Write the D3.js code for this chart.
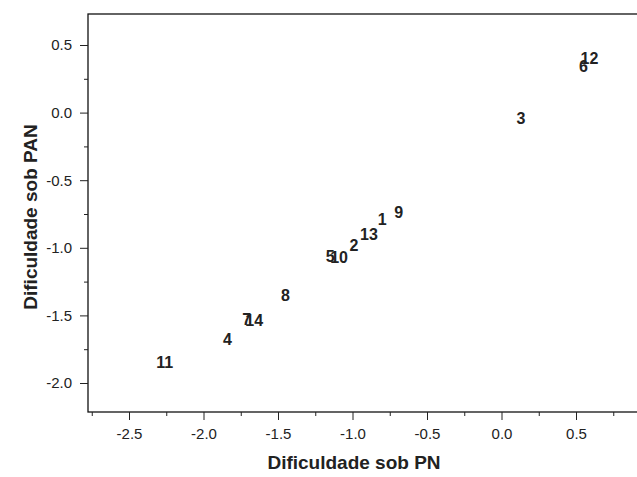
<!DOCTYPE html>
<html>
<head>
<meta charset="utf-8">
<script src="https://cdn.jsdelivr.net/npm/d3@7"></script>
<style>
  body { margin: 0; background: #fff; }
  text { font-family: "Liberation Sans", Arial, sans-serif; }
</style>
</head>
<body>
<script>
// item labels and difficulties (PN on x, PAN on y)
var items = ["1","2","3","4","5","6","7","8","9","10","11","12","13","14"];
var pn  = [-0.80, -0.99,  0.13, -1.84, -1.15, 0.55, -1.71, -1.45, -0.69, -1.09, -2.26, 0.59, -0.89, -1.66];
var pan = [-0.79, -0.98, -0.04, -1.68, -1.06, 0.34, -1.53, -1.35, -0.74, -1.07, -1.85, 0.40, -0.90, -1.54];
var majorTicks = [-2.5, -2.0, -1.5, -1.0, -0.5, 0.0, 0.5];
var majorTicksY = [-2.0, -1.5, -1.0, -0.5, 0.0, 0.5];

var W = 637, H = 477;
var frame = {left: 88, top: 14, bottom: 412, right: 700};

var x = d3.scaleLinear().domain([-2.5, 0.5]).range([129, 576]);
var y = d3.scaleLinear().domain([-2.0, 0.5]).range([383, 45]);

var svg = d3.select("body").append("svg")
    .attr("width", W)
    .attr("height", H);

// frame
svg.append("rect")
    .attr("x", frame.left).attr("y", frame.top)
    .attr("width", frame.right - frame.left).attr("height", frame.bottom - frame.top)
    .attr("fill", "none")
    .attr("stroke", "#111")
    .attr("stroke-width", 1.3);

var fmt = function(d) { return d.toFixed(1); };

// x axis
var xAxis = d3.axisBottom(x).tickValues(majorTicks).tickFormat(fmt).tickSize(8).tickPadding(8);
var gx = svg.append("g").attr("transform", "translate(0," + frame.bottom + ")").call(xAxis);
gx.select(".domain").remove();
gx.selectAll("text").attr("font-size", 15).attr("fill", "#222").attr("font-family", "Liberation Sans, Arial, sans-serif");

var xMinor = d3.axisBottom(x).tickValues(d3.range(-2.75, 0.8, 0.5)).tickFormat("").tickSize(4);
var gxm = svg.append("g").attr("transform", "translate(0," + frame.bottom + ")").call(xMinor);
gxm.select(".domain").remove();
gxm.selectAll(".tick").filter(function(d) { return x(d) < frame.left; }).remove();

// y axis
var yAxis = d3.axisLeft(y).tickValues(majorTicksY).tickFormat(fmt).tickSize(8).tickPadding(8);
var gy = svg.append("g").attr("transform", "translate(" + frame.left + ",0)").call(yAxis);
gy.select(".domain").remove();
gy.selectAll("text").attr("font-size", 15).attr("fill", "#222").attr("font-family", "Liberation Sans, Arial, sans-serif");

var yMinor = d3.axisLeft(y).tickValues(d3.range(-1.75, 0.5, 0.5)).tickFormat("").tickSize(4);
var gym = svg.append("g").attr("transform", "translate(" + frame.left + ",0)").call(yMinor);
gym.select(".domain").remove();

svg.selectAll(".tick line").attr("stroke", "#222");

// axis titles
svg.append("text")
    .attr("x", 354).attr("y", 469)
    .attr("text-anchor", "middle")
    .attr("font-size", 19).attr("font-weight", "bold").attr("fill", "#222")
    .text("Dificuldade sob PN");

svg.append("text")
    .attr("transform", "translate(37,217) rotate(-90)")
    .attr("text-anchor", "middle")
    .attr("font-size", 19).attr("font-weight", "bold").attr("fill", "#222")
    .text("Dificuldade sob PAN");

// point labels
svg.selectAll("text.lab")
    .data(items)
    .enter().append("text")
    .attr("class", "lab")
    .attr("x", function(d, i) { return x(pn[i]); })
    .attr("y", function(d, i) { return y(pan[i]); })
    .attr("dy", "0.35em")
    .attr("text-anchor", "middle")
    .attr("font-size", 16).attr("font-weight", "bold").attr("fill", "#222")
    .text(function(d) { return d; });
</script>
</body>
</html>
